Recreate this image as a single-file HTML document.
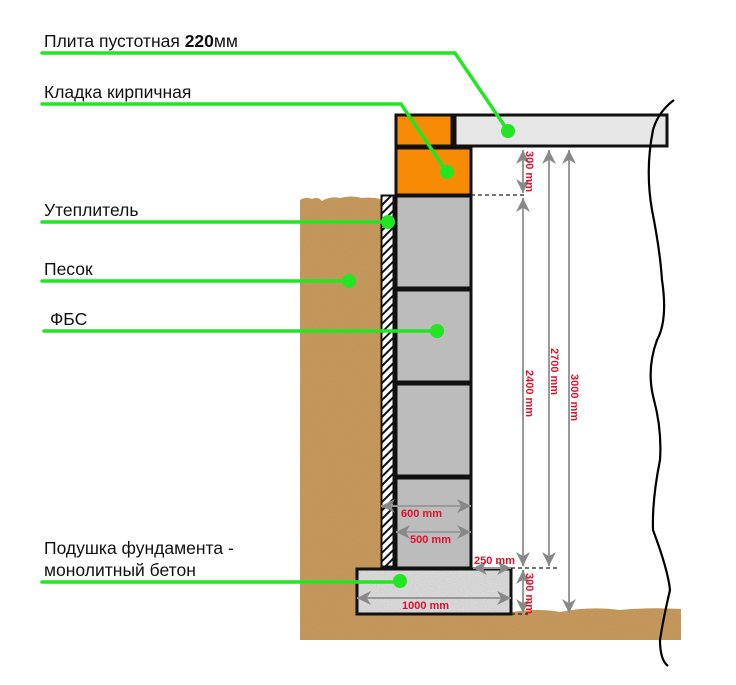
<!DOCTYPE html>
<html><head><meta charset="utf-8"><style>
html,body{margin:0;padding:0;background:#fff;}
svg{display:block;}
.lbl{font-family:"Liberation Sans","DejaVu Sans",sans-serif;font-size:17.5px;fill:#111;}
.dim{font-family:"Liberation Sans",sans-serif;font-size:11px;font-weight:bold;fill:#e0102a;}
</style></head><body>
<svg width="736" height="685" viewBox="0 0 736 685" xmlns="http://www.w3.org/2000/svg">
<defs>
<filter id="sand" x="0" y="0" width="100%" height="100%">
<feTurbulence type="fractalNoise" baseFrequency="0.6" numOctaves="2" seed="3" stitchTiles="stitch"/>
<feColorMatrix type="matrix" values="0 0 0 0 0.45  0 0 0 0 0.3  0 0 0 0 0.12  0 0 0 -1.2 0.7"/>
<feComposite in2="SourceGraphic" operator="in"/>
<feBlend in2="SourceGraphic" mode="normal"/>
</filter>
<filter id="conc" x="0" y="0" width="100%" height="100%">
<feTurbulence type="fractalNoise" baseFrequency="0.9" numOctaves="2" seed="5"/>
<feColorMatrix type="matrix" values="0 0 0 0 0.5  0 0 0 0 0.5  0 0 0 0 0.5  0 0 0 -1.5 0.8"/>
<feComposite in2="SourceGraphic" operator="in"/>
<feBlend in2="SourceGraphic" mode="normal"/>
</filter>
<pattern id="hatch" width="6" height="6" patternUnits="userSpaceOnUse" patternTransform="rotate(45)">
<rect width="6" height="6" fill="#fff"/><rect width="2" height="6" fill="#111"/>
</pattern>
<marker id="ah" viewBox="0 0 10 10" refX="10" refY="5" markerWidth="7" markerHeight="8" orient="auto-start-reverse">
<path d="M0,0 L10,5 L0,10 L3,5 z" fill="#888"/>
</marker>
</defs>

<g filter="url(#sand)">
<path d="M300,200 Q306,196 312,199 Q318,196 322,201 Q330,196 340,198 Q352,195 362,198 Q372,197 381,199 L381,612 L512,612 Q540,608 560,612 Q590,606 620,610 Q650,607 681,609 L681,640 L300,640 Z" fill="#c4965a"/>
</g>

<rect x="381.5" y="195.5" width="12" height="371" fill="url(#hatch)" stroke="#111" stroke-width="2"/>

<g fill="#bcbcbc" stroke="#111" stroke-width="3">
<rect x="396" y="196" width="75" height="92"/>
<rect x="396" y="290" width="75" height="92"/>
<rect x="396" y="384" width="75" height="92"/>
<rect x="396" y="478" width="75" height="90"/>
</g>

<rect x="396" y="115" width="56" height="31" fill="#f78b05" stroke="#111" stroke-width="3"/>
<rect x="396" y="148" width="75" height="47" fill="#f78b05" stroke="#111" stroke-width="3"/>
<rect x="455" y="115" width="212" height="31" fill="#e6e6e6" stroke="#111" stroke-width="3"/>

<g filter="url(#conc)"><rect x="357" y="569" width="154" height="45" fill="#d8d8d8"/></g>
<rect x="357" y="569" width="154" height="45" fill="none" stroke="#111" stroke-width="3"/>

<g stroke="#222" stroke-width="1.3" stroke-dasharray="4,3">
<line x1="471" y1="195" x2="527" y2="195"/>
<line x1="511" y1="568" x2="557" y2="568"/>
<line x1="511" y1="614" x2="528" y2="614"/>
</g>

<g stroke="#999" stroke-width="2" fill="none">
<line x1="523" y1="150" x2="523" y2="193" marker-start="url(#ah)" marker-end="url(#ah)"/>
<line x1="523" y1="198" x2="523" y2="566" marker-start="url(#ah)" marker-end="url(#ah)"/>
<line x1="523" y1="570" x2="523" y2="613" marker-start="url(#ah)" marker-end="url(#ah)"/>
<line x1="549" y1="150" x2="549" y2="566" marker-start="url(#ah)" marker-end="url(#ah)"/>
<line x1="569" y1="150" x2="569" y2="613" marker-start="url(#ah)" marker-end="url(#ah)"/>
<line x1="381" y1="506" x2="471" y2="506" marker-start="url(#ah)" marker-end="url(#ah)"/>
<line x1="396" y1="532" x2="471" y2="532" marker-start="url(#ah)" marker-end="url(#ah)"/>
<line x1="473" y1="568" x2="511" y2="568" marker-start="url(#ah)" marker-end="url(#ah)"/>
<line x1="357" y1="598" x2="511" y2="598" marker-start="url(#ah)" marker-end="url(#ah)"/>
</g>
<text class="dim" x="401" y="517">600 mm</text>
<text class="dim" x="410" y="543">500 mm</text>
<text class="dim" x="474" y="564">250 mm</text>
<text class="dim" x="402" y="609">1000 mm</text>
<text class="dim" transform="translate(526,151) rotate(90)">300 mm</text>
<text class="dim" transform="translate(526,370) rotate(90)">2400 mm</text>
<text class="dim" transform="translate(551,348) rotate(90)">2700 mm</text>
<text class="dim" transform="translate(571,374) rotate(90)">3000 mm</text>
<text class="dim" transform="translate(526,573) rotate(90)">300 mm</text>

<path d="M674,100 Q658,112 653,130 Q645,170 652,210 Q660,250 662,280 Q668,320 657,340 Q646,370 654,400 Q662,430 660,460 Q652,500 653,530 Q668,570 670,590 Q663,620 660,640 Q660,660 668,666" fill="none" stroke="#000" stroke-width="2.2"/>

<g stroke="#22e622" stroke-width="3.5" fill="none" stroke-linecap="round">
<polyline points="42,53 455,53 508,131"/>
<polyline points="42,104 401,104 447,172"/>
<line x1="42" y1="222" x2="387" y2="222"/>
<line x1="42" y1="281" x2="349" y2="281"/>
<line x1="44" y1="331" x2="437" y2="331"/>
<line x1="42" y1="582" x2="400" y2="582"/>
</g>
<g fill="#22e622">
<circle cx="508" cy="131" r="7"/>
<circle cx="447" cy="172" r="7"/>
<circle cx="388" cy="222" r="7"/>
<circle cx="349" cy="281" r="7"/>
<circle cx="437" cy="331" r="7"/>
<circle cx="400" cy="581" r="7"/>
</g>

<text class="lbl" x="44" y="47">Плита пустотная <tspan font-weight="bold">220</tspan>мм</text>
<text class="lbl" x="44" y="98">Кладка кирпичная</text>
<text class="lbl" x="44" y="216">Утеплитель</text>
<text class="lbl" x="44" y="275">Песок</text>
<text class="lbl" x="50" y="325">ФБС</text>
<text class="lbl" x="44" y="554">Подушка фундамента -</text>
<text class="lbl" x="44" y="576">монолитный бетон</text>
</svg>
</body></html>
